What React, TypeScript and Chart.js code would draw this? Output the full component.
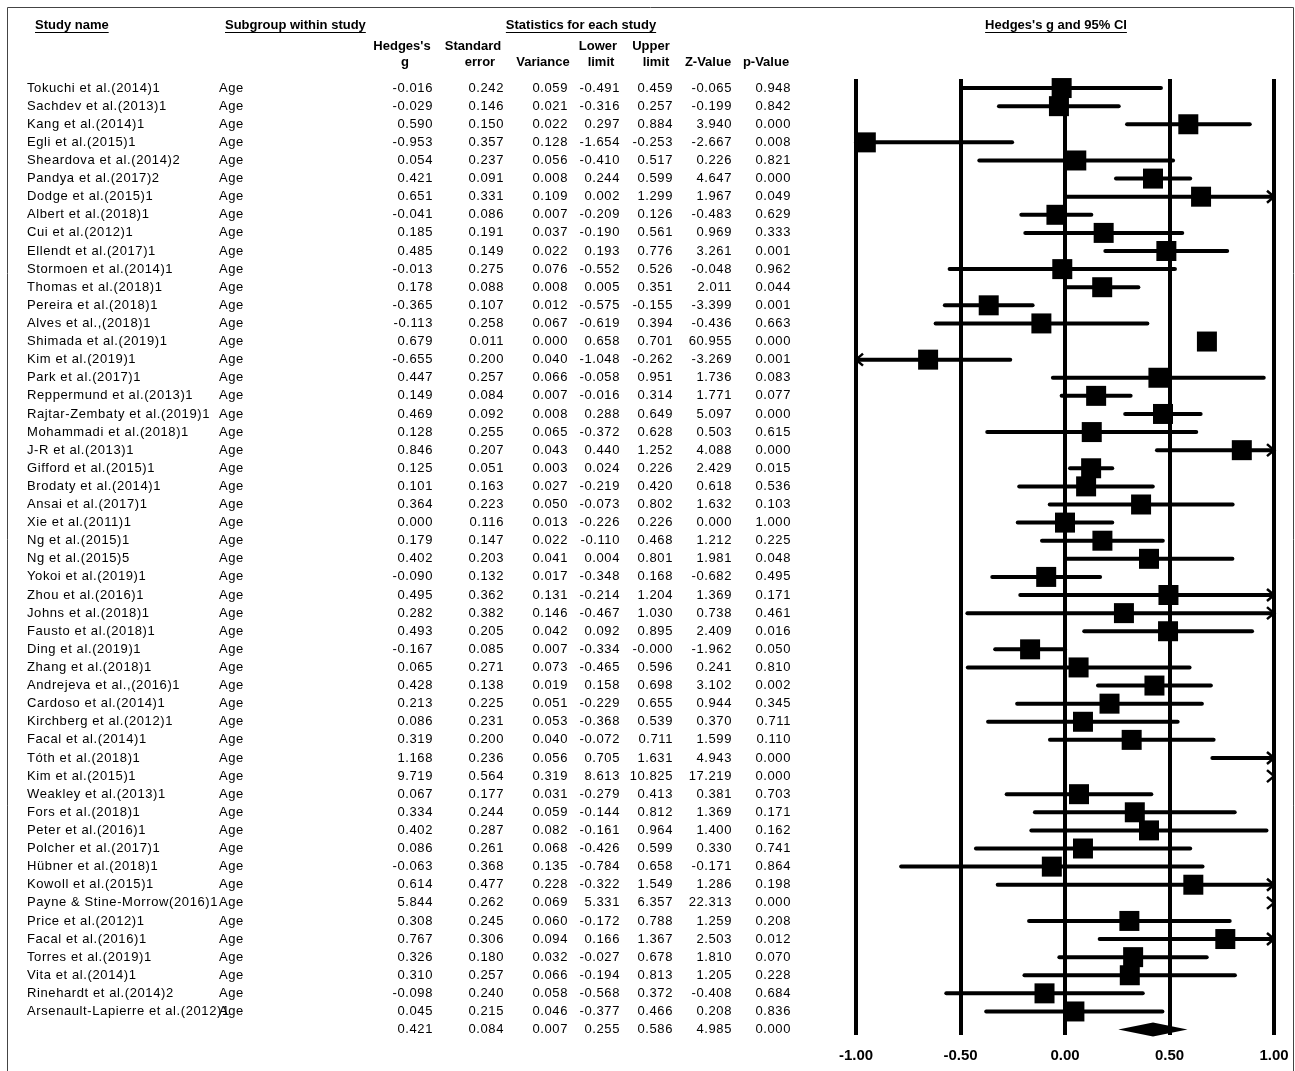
import { useEffect, useRef } from "react";
import { Chart, registerables } from "chart.js";

Chart.register(...registerables);

// ---------------- data ----------------
const studyNames = [
  "Tokuchi et al.(2014)1", "Sachdev et al.(2013)1", "Kang et al.(2014)1", "Egli et al.(2015)1",
  "Sheardova et al.(2014)2", "Pandya et al.(2017)2", "Dodge et al.(2015)1", "Albert et al.(2018)1",
  "Cui et al.(2012)1", "Ellendt et al.(2017)1", "Stormoen et al.(2014)1", "Thomas et al.(2018)1",
  "Pereira et al.(2018)1", "Alves et al.,(2018)1", "Shimada et al.(2019)1", "Kim et al.(2019)1",
  "Park et al.(2017)1", "Reppermund et al.(2013)1", "Rajtar-Zembaty et al.(2019)1", "Mohammadi et al.(2018)1",
  "J-R et al.(2013)1", "Gifford et al.(2015)1", "Brodaty et al.(2014)1", "Ansai et al.(2017)1",
  "Xie et al.(2011)1", "Ng et al.(2015)1", "Ng et al.(2015)5", "Yokoi et al.(2019)1",
  "Zhou et al.(2016)1", "Johns et al.(2018)1", "Fausto et al.(2018)1", "Ding et al.(2019)1",
  "Zhang et al.(2018)1", "Andrejeva et al.,(2016)1", "Cardoso et al.(2014)1", "Kirchberg et al.(2012)1",
  "Facal et al.(2014)1", "Tóth et al.(2018)1", "Kim et al.(2015)1", "Weakley et al.(2013)1",
  "Fors et al.(2018)1", "Peter et al.(2016)1", "Polcher et al.(2017)1", "Hübner et al.(2018)1",
  "Kowoll et al.(2015)1", "Payne & Stine-Morrow(2016)1", "Price et al.(2012)1", "Facal et al.(2016)1",
  "Torres et al.(2019)1", "Vita et al.(2014)1", "Rinehardt et al.(2014)2", "Arsenault-Lapierre et al.(2012)1",
];
const subgroupName = "Age";

const hedgesG = [
  -0.016, -0.029, 0.590, -0.953, 0.054, 0.421, 0.651, -0.041, 0.185, 0.485,
  -0.013, 0.178, -0.365, -0.113, 0.679, -0.655, 0.447, 0.149, 0.469, 0.128,
  0.846, 0.125, 0.101, 0.364, 0.000, 0.179, 0.402, -0.090, 0.495, 0.282,
  0.493, -0.167, 0.065, 0.428, 0.213, 0.086, 0.319, 1.168, 9.719, 0.067,
  0.334, 0.402, 0.086, -0.063, 0.614, 5.844, 0.308, 0.767, 0.326, 0.310,
  -0.098, 0.045,
];
const stdErr = [
  0.242, 0.146, 0.150, 0.357, 0.237, 0.091, 0.331, 0.086, 0.191, 0.149,
  0.275, 0.088, 0.107, 0.258, 0.011, 0.200, 0.257, 0.084, 0.092, 0.255,
  0.207, 0.051, 0.163, 0.223, 0.116, 0.147, 0.203, 0.132, 0.362, 0.382,
  0.205, 0.085, 0.271, 0.138, 0.225, 0.231, 0.200, 0.236, 0.564, 0.177,
  0.244, 0.287, 0.261, 0.368, 0.477, 0.262, 0.245, 0.306, 0.180, 0.257,
  0.240, 0.215,
];
const variance = [
  0.059, 0.021, 0.022, 0.128, 0.056, 0.008, 0.109, 0.007, 0.037, 0.022,
  0.076, 0.008, 0.012, 0.067, 0.000, 0.040, 0.066, 0.007, 0.008, 0.065,
  0.043, 0.003, 0.027, 0.050, 0.013, 0.022, 0.041, 0.017, 0.131, 0.146,
  0.042, 0.007, 0.073, 0.019, 0.051, 0.053, 0.040, 0.056, 0.319, 0.031,
  0.059, 0.082, 0.068, 0.135, 0.228, 0.069, 0.060, 0.094, 0.032, 0.066,
  0.058, 0.046,
];
const lowerLimit = [
  -0.491, -0.316, 0.297, -1.654, -0.410, 0.244, 0.002, -0.209, -0.190, 0.193,
  -0.552, 0.005, -0.575, -0.619, 0.658, -1.048, -0.058, -0.016, 0.288, -0.372,
  0.440, 0.024, -0.219, -0.073, -0.226, -0.110, 0.004, -0.348, -0.214, -0.467,
  0.092, -0.334, -0.465, 0.158, -0.229, -0.368, -0.072, 0.705, 8.613, -0.279,
  -0.144, -0.161, -0.426, -0.784, -0.322, 5.331, -0.172, 0.166, -0.027, -0.194,
  -0.568, -0.377,
];
const upperLimit = [
  0.459, 0.257, 0.884, -0.253, 0.517, 0.599, 1.299, 0.126, 0.561, 0.776,
  0.526, 0.351, -0.155, 0.394, 0.701, -0.262, 0.951, 0.314, 0.649, 0.628,
  1.252, 0.226, 0.420, 0.802, 0.226, 0.468, 0.801, 0.168, 1.204, 1.030,
  0.895, -0.000, 0.596, 0.698, 0.655, 0.539, 0.711, 1.631, 10.825, 0.413,
  0.812, 0.964, 0.599, 0.658, 1.549, 6.357, 0.788, 1.367, 0.678, 0.813,
  0.372, 0.466,
];
const zValue = [
  -0.065, -0.199, 3.940, -2.667, 0.226, 4.647, 1.967, -0.483, 0.969, 3.261,
  -0.048, 2.011, -3.399, -0.436, 60.955, -3.269, 1.736, 1.771, 5.097, 0.503,
  4.088, 2.429, 0.618, 1.632, 0.000, 1.212, 1.981, -0.682, 1.369, 0.738,
  2.409, -1.962, 0.241, 3.102, 0.944, 0.370, 1.599, 4.943, 17.219, 0.381,
  1.369, 1.400, 0.330, -0.171, 1.286, 22.313, 1.259, 2.503, 1.810, 1.205,
  -0.408, 0.208,
];
const pValue = [
  0.948, 0.842, 0.000, 0.008, 0.821, 0.000, 0.049, 0.629, 0.333, 0.001,
  0.962, 0.044, 0.001, 0.663, 0.000, 0.001, 0.083, 0.077, 0.000, 0.615,
  0.000, 0.015, 0.536, 0.103, 1.000, 0.225, 0.048, 0.495, 0.171, 0.461,
  0.016, 0.050, 0.810, 0.002, 0.345, 0.711, 0.110, 0.000, 0.000, 0.703,
  0.171, 0.162, 0.741, 0.864, 0.198, 0.000, 0.208, 0.012, 0.070, 0.228,
  0.684, 0.836,
];

// pooled (summary) row
const summaryG = 0.421;
const summarySE = 0.084;
const summaryVar = 0.007;
const summaryLower = 0.255;
const summaryUpper = 0.586;
const summaryZ = 4.985;
const summaryP = 0.000;

const xTicks = [-1.0, -0.5, 0.0, 0.5, 1.0];

// ---------------- helpers ----------------
const FONT_FAMILY = '"Liberation Sans", Arial, Helvetica, sans-serif';
const fmt = (v: number) =>
  v < 0 || Object.is(v, -0) ? "-" + Math.abs(v).toFixed(3) : v.toFixed(3);

const numCols = [433, 504, 568, 620, 673, 732, 791]; // right edges of numeric columns
const NAME_X = 27;
const SUBGROUP_X = 219;

function drawArrow(ctx: CanvasRenderingContext2D, x: number, y: number, dir: number) {
  ctx.save();
  ctx.lineWidth = 2.5;
  ctx.lineCap = "butt";
  ctx.lineJoin = "miter";
  ctx.beginPath();
  ctx.moveTo(x - dir * 7, y - 6);
  ctx.lineTo(x, y);
  ctx.lineTo(x - dir * 7, y + 6);
  ctx.stroke();
  ctx.restore();
}

const forestPlugin = {
  id: "forestPlugin",
  beforeDatasetsDraw(chart: any) {
    const { ctx, scales } = chart;
    const x = scales.x;
    const y = scales.y;
    const xmin = x.min;
    const xmax = x.max;
    ctx.save();
    ctx.strokeStyle = "#000";
    ctx.fillStyle = "#000";
    for (let i = 0; i < hedgesG.length; i++) {
      const lo = lowerLimit[i];
      const hi = upperLimit[i];
      const py = y.getPixelForValue(i);
      if (lo > xmax) {
        drawArrow(ctx, x.getPixelForValue(xmax), py, 1);
        continue;
      }
      if (hi < xmin) {
        drawArrow(ctx, x.getPixelForValue(xmin), py, -1);
        continue;
      }
      const x1 = x.getPixelForValue(Math.max(lo, xmin));
      const x2 = x.getPixelForValue(Math.min(hi, xmax));
      ctx.lineWidth = 4;
      ctx.lineCap = "round";
      ctx.beginPath();
      ctx.moveTo(x1, py);
      ctx.lineTo(x2, py);
      ctx.stroke();
      if (lo < xmin) drawArrow(ctx, x1, py, -1);
      if (hi > xmax) drawArrow(ctx, x2, py, 1);
    }
    // summary diamond
    const sy = y.getPixelForValue(hedgesG.length);
    const h = 7;
    ctx.beginPath();
    ctx.moveTo(x.getPixelForValue(summaryLower), sy);
    ctx.lineTo(x.getPixelForValue(summaryG), sy - h);
    ctx.lineTo(x.getPixelForValue(summaryUpper), sy);
    ctx.lineTo(x.getPixelForValue(summaryG), sy + h);
    ctx.closePath();
    ctx.fill();
    ctx.restore();
  },
  afterDraw(chart: any) {
    const { ctx, scales } = chart;
    const y = scales.y;
    const W = chart.width;
    const H = chart.height;
    ctx.save();
    // frame
    ctx.strokeStyle = "#444";
    ctx.lineWidth = 1;
    ctx.beginPath();
    ctx.moveTo(7.5, H);
    ctx.lineTo(7.5, 7.5);
    ctx.lineTo(W - 1.5, 7.5);
    ctx.lineTo(W - 1.5, H);
    ctx.stroke();

    ctx.fillStyle = "#000";
    ctx.strokeStyle = "#000";
    // top headers (bold, underlined)
    ctx.font = `bold 13px ${FONT_FAMILY}`;
    ctx.textBaseline = "middle";
    const topHeaders: [string, number, CanvasTextAlign][] = [
      ["Study name", 35, "left"],
      ["Subgroup within study", 225, "left"],
      ["Statistics for each study", 581, "center"],
      ["Hedges's g and 95% CI", 1056, "center"],
    ];
    for (const [t, hx, al] of topHeaders) {
      ctx.textAlign = al;
      ctx.fillText(t, hx, 25);
      const w = ctx.measureText(t).width;
      const left = al === "left" ? hx : hx - w / 2;
      ctx.fillRect(left, 32, w, 1);
    }
    // column headers
    const colHead1: [string, number][] = [
      ["Hedges's", 402], ["Standard", 473], ["Lower", 598], ["Upper", 651],
    ];
    const colHead2: [string, number][] = [
      ["g", 405], ["error", 480], ["Variance", 543], ["limit", 601], ["limit", 656],
      ["Z-Value", 708], ["p-Value", 766],
    ];
    ctx.textAlign = "center";
    for (const [t, hx] of colHead1) ctx.fillText(t, hx, 46);
    for (const [t, hx] of colHead2) ctx.fillText(t, hx, 62);

    // rows
    ctx.font = `13px ${FONT_FAMILY}`;
    try { (ctx as any).letterSpacing = "0.6px"; } catch (e) { /* ignore */ }
    for (let i = 0; i < studyNames.length; i++) {
      const py = y.getPixelForValue(i);
      ctx.textAlign = "left";
      ctx.fillText(studyNames[i], NAME_X, py);
      ctx.fillText(subgroupName, SUBGROUP_X, py);
      ctx.textAlign = "right";
      const vals = [hedgesG[i], stdErr[i], variance[i], lowerLimit[i], upperLimit[i], zValue[i], pValue[i]];
      vals.forEach((v, k) => ctx.fillText(fmt(v), numCols[k], py));
    }
    const sy = y.getPixelForValue(studyNames.length);
    ctx.textAlign = "right";
    [summaryG, summarySE, summaryVar, summaryLower, summaryUpper, summaryZ, summaryP].forEach((v, k) =>
      ctx.fillText(fmt(v), numCols[k], sy)
    );
    ctx.restore();
  },
};

export default function App() {
  const canvasRef = useRef<HTMLCanvasElement | null>(null);

  useEffect(() => {
    if (!canvasRef.current) return;
    Chart.defaults.font.family = FONT_FAMILY;
    const squares = hedgesG
      .map((g, i) => ({ x: g, y: i }))
      .filter((p) => p.x >= xTicks[0] && p.x <= xTicks[xTicks.length - 1]);
    const chart = new Chart(canvasRef.current, {
      type: "scatter",
      data: {
        datasets: [
          {
            label: "Hedges's g",
            data: squares,
            pointStyle: "rect",
            pointRadius: 14.14,
            pointHoverRadius: 14.14,
            backgroundColor: "#000",
            borderColor: "#000",
            borderWidth: 0,
            clip: false as any,
          },
        ],
      },
      options: {
        animation: false,
        responsive: false,
        devicePixelRatio: 1,
        layout: { padding: { left: 856, right: 21, top: 79, bottom: 0 } },
        plugins: { legend: { display: false }, tooltip: { enabled: false } },
        events: [],
        scales: {
          x: {
            type: "linear",
            min: xTicks[0],
            max: xTicks[xTicks.length - 1],
            afterBuildTicks: (scale: any) => {
              scale.ticks = xTicks.map((v) => ({ value: v }));
            },
            afterFit: (scale: any) => {
              scale.height = 36;
              scale.paddingLeft = 0;
              scale.paddingRight = 0;
            },
            grid: { color: "#000", lineWidth: 4, drawTicks: false },
            border: { display: false },
            ticks: {
              padding: 12,
              color: "#000",
              font: { size: 15, weight: "bold", family: FONT_FAMILY },
              callback: (v: any) => Number(v).toFixed(2),
            },
          },
          y: {
            type: "linear",
            display: false,
            min: -0.5,
            max: 52.3,
            reverse: true,
          },
        },
      },
      plugins: [forestPlugin],
    });
    return () => chart.destroy();
  }, []);

  return (
    <div
      style={{
        position: "absolute",
        left: 0,
        top: 0,
        width: 1295,
        height: 1071,
        background: "#fff",
        overflow: "hidden",
      }}
    >
      <canvas ref={canvasRef} width={1295} height={1071} style={{ display: "block" }} />
    </div>
  );
}
